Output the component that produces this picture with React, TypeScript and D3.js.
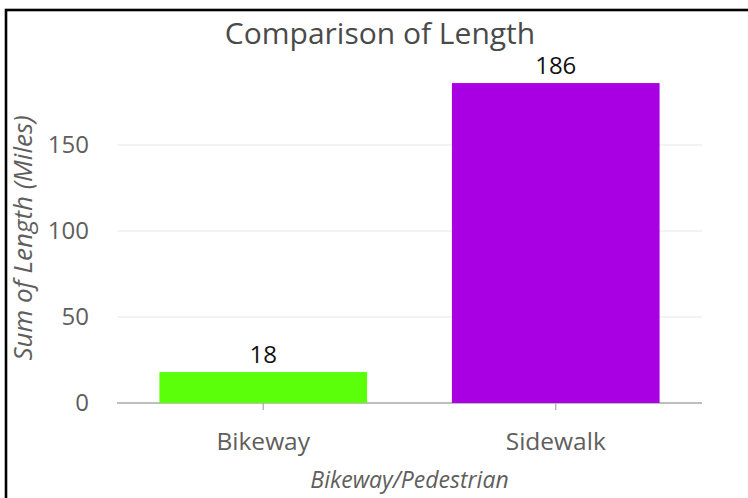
import React from "react";
import * as d3 from "d3";

const categories: string[] = ["Bikeway", "Sidewalk"];
const lengths: number[] = [18, 186];
const barColors: string[] = ["#5BFF0A", "#A800E3"];
const yTicks: number[] = [0, 50, 100, 150];
const chartTitle = "Comparison of Length";
const yTitle = "Sum of Length (Miles)";
const xTitle = "Bikeway/Pedestrian";

const W = 748;
const H = 498;
const FONT = "'Open Sans', 'Noto Sans', sans-serif";

export default function App() {
  const x = d3
    .scaleBand<string>()
    .domain(categories)
    .range([117, 702])
    .paddingInner(0.29)
    .paddingOuter(0.145);
  const y = d3.scaleLinear().domain([0, 200]).range([403, 59]);
  const plotMid = (x.range()[0] + x.range()[1]) / 2;

  return (
    <svg
      width={W}
      height={H}
      style={{ position: "absolute", left: 0, top: 0, background: "#fff" }}
    >
      <rect x={6} y={10} width={900} height={700} fill="none" stroke="#000" strokeWidth={2.6} />
      <text x={380} y={44} textAnchor="middle" fontFamily={FONT} fontSize={30} fill="#4a4a4a">
        {chartTitle}
      </text>
      {yTicks.map((t) => (
        <g key={t}>
          <line
            x1={117}
            x2={702}
            y1={y(t)}
            y2={y(t)}
            stroke={t === 0 ? "#a8a8a8" : "#e8e8e8"}
            strokeWidth={t === 0 ? 1.5 : 1.2}
          />
          <text
            x={89}
            y={y(t)}
            dy="0.35em"
            textAnchor="end"
            fontFamily={FONT}
            fontSize={24}
            fill="#605e5c"
          >
            {t}
          </text>
        </g>
      ))}
      {categories.map((c, i) => (
        <g key={c}>
          <rect
            x={x(c)!}
            y={y(lengths[i])}
            width={x.bandwidth()}
            height={y(0) - y(lengths[i])}
            fill={barColors[i]}
          />
          <line
            x1={x(c)! + x.bandwidth() / 2}
            x2={x(c)! + x.bandwidth() / 2}
            y1={y(0)}
            y2={y(0) + 7}
            stroke="#a8a8a8"
            strokeWidth={1.2}
          />
          <text
            x={x(c)! + x.bandwidth() / 2}
            y={y(lengths[i]) - 9}
            textAnchor="middle"
            fontFamily={FONT}
            fontSize={24}
            fill="#111"
          >
            {lengths[i]}
          </text>
          <text
            x={x(c)! + x.bandwidth() / 2}
            y={450}
            textAnchor="middle"
            fontFamily={FONT}
            fontSize={24.5}
            fill="#605e5c"
          >
            {c}
          </text>
        </g>
      ))}
      <text
        x={plotMid}
        y={488}
        textAnchor="middle"
        fontFamily={FONT}
        fontSize={23}
        fontStyle="italic"
        fill="#605e5c"
      >
        {xTitle}
      </text>
      <text
        transform={`translate(32, 238) rotate(-90)`}
        textAnchor="middle"
        fontFamily={FONT}
        fontSize={26}
        fontStyle="italic"
        fill="#605e5c"
      >
        {yTitle}
      </text>
    </svg>
  );
}
